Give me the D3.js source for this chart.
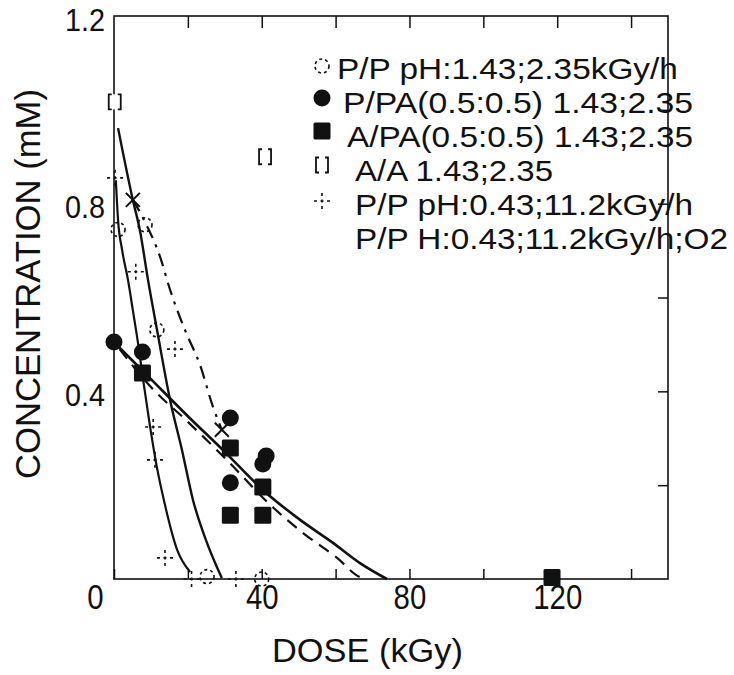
<!DOCTYPE html>
<html>
<head>
<meta charset="utf-8">
<script src="https://cdn.jsdelivr.net/npm/d3@7"></script>
<style>
  html, body { margin: 0; background: #fff; }
  svg { display: block; }
  text { font-family: "Liberation Sans", Arial, sans-serif; fill: #111; }
</style>
</head>
<body>
<svg id="chart" width="734" height="675"></svg>
<script>
// ── Data (dose kGy, concentration mM) ─────────────────────────────────────────
const xTicks      = [0, 20, 40, 60, 80, 100, 120, 140];
const xTickLabels = [0, 40, 80, 120];
const yTickLabels = [0.4, 0.8, 1.2];
const yRightTicks = [0.2, 0.4, 0.6, 0.8, 1.0];

// P/P pH:1.43;2.35kGy/h  (dotted open circles, solid fit)
const ppHighPts = [[1.1, 0.745], [8.4, 0.755], [11.6, 0.531], [25.2, 0.005], [40, 0]];
const ppHighFit = [[1.1, 0.961], [5.1, 0.808], [7.0, 0.744], [9.2, 0.638], [11.9, 0.52],
                   [15.2, 0.381], [18.4, 0.275], [21.4, 0.168], [24.9, 0.083], [29.2, 0.002]];

// P/PA(0.5:0.5) 1.43;2.35  (filled circles, solid fit)
const ppaPts = [[0, 0.505], [7.7, 0.484], [31.5, 0.343], [31.5, 0.205], [40.3, 0.245], [41.2, 0.262]];
const ppaFit = [[0, 0.505], [10, 0.426], [20, 0.347], [30, 0.271], [40, 0.192],
                [50.4, 0.126], [59.3, 0.077], [66.6, 0.034], [73.9, 0]];

// A/PA(0.5:0.5) 1.43;2.35  (filled squares, dashed fit)
const apaPts = [[7.7, 0.439], [31.5, 0.279], [31.5, 0.136], [40.3, 0.196], [40.3, 0.136], [118.6, 0.003]];
const apaFit = [[1.5, 0.49], [10, 0.409], [20, 0.335], [30, 0.258], [43, 0.153],
                [51.2, 0.098], [60.4, 0.045], [66.6, 0.004], [68.5, 0]];

// A/A 1.43;2.35  (open squares)
const aaPts = [[0.2, 1.017], [40.9, 0.9]];

// P/P pH:0.43;11.2kGy/h  (dashed crosses, solid fit)
const ppLowPts = [[0.3, 0.855], [5.9, 0.655], [10.6, 0.324], [11.1, 0.254],
                  [16.5, 0.49], [13.8, 0.045], [21, 0], [33, 0]];
const ppLowFit = [[0.5, 0.85], [1.1, 0.765], [2.2, 0.701], [3.8, 0.637], [5.1, 0.573],
                  [6.5, 0.503], [7.9, 0.424], [9.7, 0.328], [11.6, 0.239], [13.8, 0.158],
                  [17.1, 0.062], [20.6, 0.015]];

// P/P H:0.43;11.2kGy/h;O2  (crosses, dash-dot fit)
const ppO2Pts = [[5.1, 0.808], [29.2, 0.318]];
const ppO2Fit = [[5.1, 0.808], [8.4, 0.761], [12.5, 0.686], [15.2, 0.616], [19.2, 0.531],
                 [23.3, 0.456], [26.8, 0.367], [29.2, 0.318]];

const legendLabels = [
  'P/P pH:1.43;2.35kGy/h',
  'P/PA(0.5:0.5) 1.43;2.35',
  'A/PA(0.5:0.5) 1.43;2.35',
  'A/A 1.43;2.35',
  'P/P pH:0.43;11.2kGy/h',
  'P/P H:0.43;11.2kGy/h;O2',
];

// ── Scales ────────────────────────────────────────────────────────────────────
const svg = d3.select('#chart');
const x = d3.scaleLinear().domain([0, 150]).range([114, 668]);
const y = d3.scaleLinear().domain([0, 1.2]).range([579, 16]);
const INK = '#111';

// squeeze text to a narrower face (the original uses a condensed sans)
function squeeze(sel, k) {
  sel.each(function () {
    const w = this.getComputedTextLength();
    if (w > 0) d3.select(this).attr('textLength', w * k).attr('lengthAdjust', 'spacingAndGlyphs');
  });
}

// ── Axes ──────────────────────────────────────────────────────────────────────
const axisBottomG = svg.append('g')
  .attr('transform', `translate(0,${y(0)})`)
  .call(d3.axisBottom(x).tickValues(xTicks).tickSizeInner(-10).tickSizeOuter(0).tickPadding(5)
    .tickFormat((d) => (xTickLabels.includes(d) ? d : '')));
const axisTopG = svg.append('g')
  .attr('transform', `translate(0,${y(1.2)})`)
  .call(d3.axisTop(x).tickValues(xTicks.slice(1)).tickSizeInner(-12).tickSizeOuter(0).tickFormat(''));
const axisLeftG = svg.append('g')
  .attr('transform', `translate(${x(0)},0)`)
  .call(d3.axisLeft(y).tickValues(yTickLabels).tickSize(0).tickPadding(9).tickFormat(d3.format('.1f')));
const axisRightG = svg.append('g')
  .attr('transform', `translate(${x(150)},0)`)
  .call(d3.axisRight(y).tickValues(yRightTicks).tickSizeInner(-10).tickSizeOuter(0).tickFormat(''));

[axisBottomG, axisTopG, axisLeftG, axisRightG].forEach((g) => {
  g.select('.domain').remove();
  g.selectAll('line').attr('stroke', INK).attr('stroke-width', 1.5);
  g.selectAll('text').attr('font-size', 35).attr('font-family', null).attr('fill', INK);
});
axisBottomG.selectAll('text').filter((d) => d === 0).attr('dx', -19);
axisLeftG.selectAll('text').attr('font-size', 32).attr('dy', '0.44em');
squeeze(axisBottomG.selectAll('text'), 0.84);
squeeze(axisLeftG.selectAll('text'), 0.9);

// frame
svg.append('rect')
  .attr('x', x(0)).attr('y', y(1.2))
  .attr('width', x(150) - x(0)).attr('height', y(0) - y(1.2))
  .attr('fill', 'none').attr('stroke', INK).attr('stroke-width', 1.6);

// axis titles
svg.append('text')
  .attr('x', 272).attr('y', 662)
  .attr('font-size', 34)
  .attr('textLength', 191).attr('lengthAdjust', 'spacingAndGlyphs')
  .text('DOSE (kGy)');
svg.append('text')
  .attr('transform', 'translate(40,479) rotate(-90)')
  .attr('font-size', 35)
  .attr('textLength', 390).attr('lengthAdjust', 'spacingAndGlyphs')
  .text('CONCENTRATION (mM)');

// ── Fitted curves ─────────────────────────────────────────────────────────────
const lineGen = d3.line().x((d) => x(d[0])).y((d) => y(d[1])).curve(d3.curveMonotoneX);
const fits = [
  { data: ppHighFit, dash: null, w: 2.4 },
  { data: ppLowFit, dash: null, w: 2.2 },
  { data: ppO2Fit, dash: '13,7,3,7', w: 2.2 },
  { data: ppaFit, dash: null, w: 2.6 },
  { data: apaFit, dash: '12,8', w: 2.2 },
];
svg.append('g').selectAll('path')
  .data(fits)
  .join('path')
  .attr('d', (f) => lineGen(f.data))
  .attr('fill', 'none')
  .attr('stroke', INK)
  .attr('stroke-width', (f) => f.w)
  .attr('stroke-dasharray', (f) => f.dash);

// ── Marker painters ───────────────────────────────────────────────────────────
function dottedCircle(g, cx, cy) {
  g.append('circle').attr('cx', cx).attr('cy', cy).attr('r', 7)
    .attr('fill', 'none').attr('stroke', INK).attr('stroke-width', 1.6).attr('stroke-dasharray', '3,3');
}
function filledCircle(g, cx, cy) {
  g.append('circle').attr('cx', cx).attr('cy', cy).attr('r', 8.5).attr('fill', INK);
}
function filledSquare(g, cx, cy) {
  g.append('rect').attr('x', cx - 8.5).attr('y', cy - 8.5).attr('width', 17).attr('height', 17)
    .attr('rx', 1.5).attr('fill', INK);
}
function openSquare(g, cx, cy) {
  g.append('rect').attr('x', cx - 6).attr('y', cy - 7.5).attr('width', 12).attr('height', 15)
    .attr('fill', '#fff').attr('stroke', INK).attr('stroke-width', 1.8)
    .attr('stroke-dasharray', '3,6,21,6,18');
}
function dashedCross(g, cx, cy) {
  g.append('path').attr('d', `M${cx - 8},${cy}H${cx + 8}M${cx},${cy - 8}V${cy + 8}`)
    .attr('stroke', INK).attr('stroke-width', 1.6).attr('stroke-dasharray', '3,3.5');
}
function cross(g, cx, cy) {
  g.append('path').attr('d', `M${cx - 7},${cy - 7}L${cx + 7},${cy + 7}M${cx - 7},${cy + 7}L${cx + 7},${cy - 7}`)
    .attr('stroke', INK).attr('stroke-width', 2);
}

const marks = svg.append('g');
const series = [
  [ppHighPts, dottedCircle],
  [ppLowPts, dashedCross],
  [ppO2Pts, cross],
  [aaPts, openSquare],
  [ppaPts, filledCircle],
  [apaPts, filledSquare],
];
series.forEach(([pts, paint]) => pts.forEach((d) => paint(marks, x(d[0]), y(d[1]))));

// ── Legend ────────────────────────────────────────────────────────────────────
// text is scaled horizontally to the width it has in the original
const legendRows = [
  { sym: dottedCircle, sy: 66, tx: 337, ty: 79, w: 341 },
  { sym: filledCircle, sy: 98, tx: 343, ty: 113, w: 350 },
  { sym: filledSquare, sy: 131, tx: 347, ty: 147, w: 346 },
  { sym: openSquare, sy: 165, tx: 355, ty: 181, w: 198 },
  { sym: dashedCross, sy: 201, tx: 355, ty: 215, w: 338 },
  { sym: null, sy: 232, tx: 355, ty: 249, w: 373 },
];
const legend = svg.append('g');
legendRows.forEach((r, i) => {
  if (r.sym) r.sym(legend, 322, r.sy);
  const t = legend.append('text')
    .attr('font-size', 30.4)
    .text(legendLabels[i]);
  const k = r.w / t.node().getComputedTextLength();
  t.attr('transform', `translate(${r.tx},${r.ty}) scale(${k},1)`);
});
</script>
</body>
</html>
